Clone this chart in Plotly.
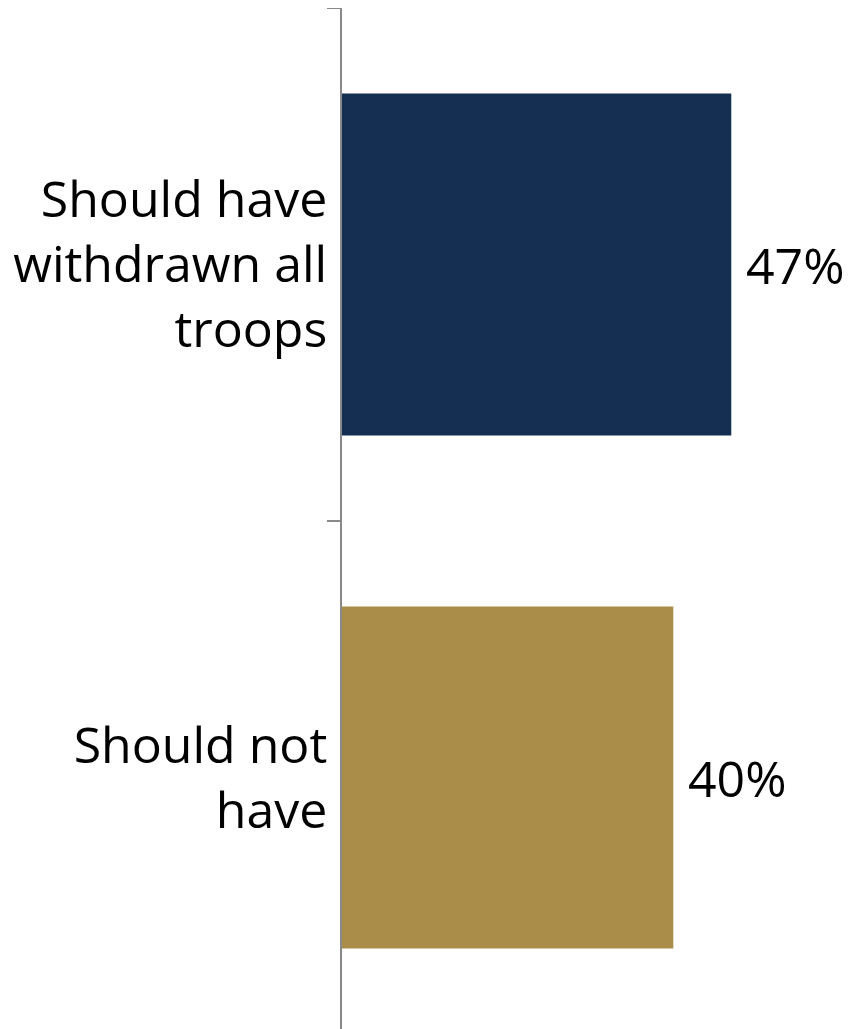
import plotly.graph_objects as go

categories = ["Should have<br>withdrawn all<br>troops", "Should not<br>have"]
values = [47, 40]
labels = ["47%", "40%"]
colors = ["#152F52", "#AB8D4A"]

fig = go.Figure(go.Bar(
    y=categories, x=values, orientation="h",
    marker=dict(color=colors, line=dict(width=0)),
    width=0.667,
    cliponaxis=False,
))

for c, v, t in zip(categories, values, labels):
    fig.add_annotation(x=v, y=c, text=t, showarrow=False, xanchor="left",
                       xshift=13, font=dict(family="Open Sans", size=50, color="black"))

fig.update_layout(
    width=850, height=1029,
    margin=dict(l=334, r=0, t=0, b=3, autoexpand=False),
    paper_bgcolor="white", plot_bgcolor="white",
    showlegend=False,
    font=dict(family="Open Sans", size=50, color="black"),
)
fig.update_xaxes(range=[0, 62.3], visible=False, automargin=False)
fig.update_yaxes(
    autorange="reversed", automargin=False,
    showline=True, linecolor="#898989", linewidth=1.5,
    ticks="outside", tickson="boundaries", ticklen=13, tickcolor="#898989", tickwidth=1.5,
    ticklabelstandoff=3,
    showgrid=False, zeroline=False,
    tickfont=dict(family="Open Sans", size=50, color="black"),
)

fig.write_html("out.html")
